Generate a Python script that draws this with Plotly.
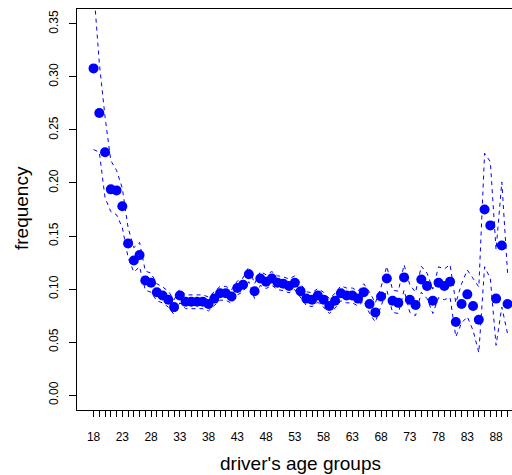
import plotly.graph_objects as go

ages = list(range(18, 91))
freq = [0.308, 0.266, 0.229, 0.194, 0.193, 0.178, 0.143, 0.127, 0.132, 0.108,
        0.106, 0.097, 0.094, 0.090, 0.083, 0.094, 0.088, 0.088, 0.088, 0.088,
        0.086, 0.091, 0.096, 0.096, 0.093, 0.101, 0.104, 0.114, 0.098, 0.110,
        0.107, 0.110, 0.106, 0.105, 0.103, 0.106, 0.098, 0.091, 0.090, 0.094,
        0.090, 0.084, 0.089, 0.096, 0.094, 0.094, 0.091, 0.097, 0.086, 0.078,
        0.093, 0.110, 0.089, 0.087, 0.111, 0.090, 0.085, 0.109, 0.103, 0.089,
        0.106, 0.103, 0.107, 0.069, 0.086, 0.095, 0.084, 0.071, 0.175, 0.160,
        0.091, 0.141, 0.086]
lower = [0.2315, 0.229, 0.186, 0.173, 0.170, 0.158, 0.130, 0.116, 0.121, 0.099,
         0.097, 0.089, 0.087, 0.083, 0.076, 0.087, 0.0815, 0.0815, 0.0815, 0.0815,
         0.0795, 0.0845, 0.0895, 0.0895, 0.0865, 0.0945, 0.0975, 0.107, 0.091, 0.1035,
         0.1005, 0.1035, 0.0995, 0.0985, 0.0965, 0.0995, 0.0915, 0.0845, 0.0835, 0.0875,
         0.083, 0.077, 0.082, 0.089, 0.087, 0.087, 0.084, 0.089, 0.077, 0.069,
         0.084, 0.099, 0.078, 0.077, 0.099, 0.078, 0.075, 0.097, 0.091, 0.077,
         0.092, 0.090, 0.092, 0.055, 0.068, 0.074, 0.061, 0.040, 0.121, 0.110,
         0.047, 0.083, 0.058]
upper = [0.385, 0.313, 0.262, 0.221, 0.212, 0.195, 0.158, 0.139, 0.144, 0.117,
         0.115, 0.105, 0.102, 0.098, 0.090, 0.100, 0.0945, 0.0945, 0.0945, 0.0945,
         0.0925, 0.0975, 0.1025, 0.1025, 0.0995, 0.1075, 0.1105, 0.121, 0.105, 0.1165,
         0.1135, 0.1165, 0.1125, 0.1115, 0.1095, 0.1125, 0.1045, 0.0975, 0.0965, 0.1005,
         0.097, 0.091, 0.096, 0.103, 0.101, 0.101, 0.098, 0.105, 0.097, 0.087,
         0.102, 0.1215, 0.099, 0.098, 0.123, 0.104, 0.097, 0.1215, 0.115, 0.100,
         0.121, 0.119, 0.123, 0.087, 0.105, 0.118, 0.110, 0.102, 0.228, 0.220,
         0.137, 0.201, 0.115]
y_ticks = [0.00, 0.05, 0.10, 0.15, 0.20, 0.25, 0.30, 0.35]
x_label_ages = list(range(18, 91, 5))

font = "Liberation Sans, Arial, Helvetica, sans-serif"
fig = go.Figure()
for band in (upper, lower):
    fig.add_trace(go.Scatter(x=ages, y=band, mode="lines",
                             line=dict(color="#0000ff", width=1, dash="4px,4px"),
                             showlegend=False, hoverinfo="skip"))
fig.add_trace(go.Scatter(x=ages, y=freq, mode="markers",
                         marker=dict(color="#0000ff", size=10, line=dict(width=0)),
                         showlegend=False))

ticktext = [str(a) if a in x_label_ages else "" for a in ages]
fig.update_layout(
    width=512, height=475,
    margin=dict(l=77, r=0, t=9, b=65),
    plot_bgcolor="white", paper_bgcolor="white",
    font=dict(family=font, size=12, color="black"),
    xaxis=dict(range=[15.12, 90.77], tickvals=ages, ticktext=ticktext,
               ticks="outside", ticklen=6, tickcolor="black", tickwidth=1,
               showline=True, linecolor="black", linewidth=1, mirror=True,
               showgrid=False, zeroline=False, ticklabelstandoff=10,
               tickfont=dict(size=12)),
    yaxis=dict(range=[-0.014, 0.364], tickvals=y_ticks,
               ticktext=[f"{v:.2f}" for v in y_ticks], tickangle=-90,
               ticks="outside", ticklen=7, tickcolor="black", tickwidth=1,
               showline=True, linecolor="black", linewidth=1, mirror=False,
               showgrid=False, zeroline=False, ticklabelstandoff=6,
               tickfont=dict(size=12)),
    annotations=[
        dict(text="driver's age groups", xref="paper", yref="paper",
             x=(300 - 77) / 435, y=(410 - 463) / 401, xanchor="center", yanchor="middle",
             showarrow=False, font=dict(size=19, family=font)),
        dict(text="frequency", xref="paper", yref="paper",
             x=(22 - 77) / 435, y=(410 - 208) / 401, xanchor="center", yanchor="middle",
             textangle=-90, showarrow=False, font=dict(size=19, family=font)),
    ],
)
fig.write_html("out.html", config={"displayModeBar": False},
               post_script="document.body.style.margin='0';document.body.style.overflow='hidden';")
